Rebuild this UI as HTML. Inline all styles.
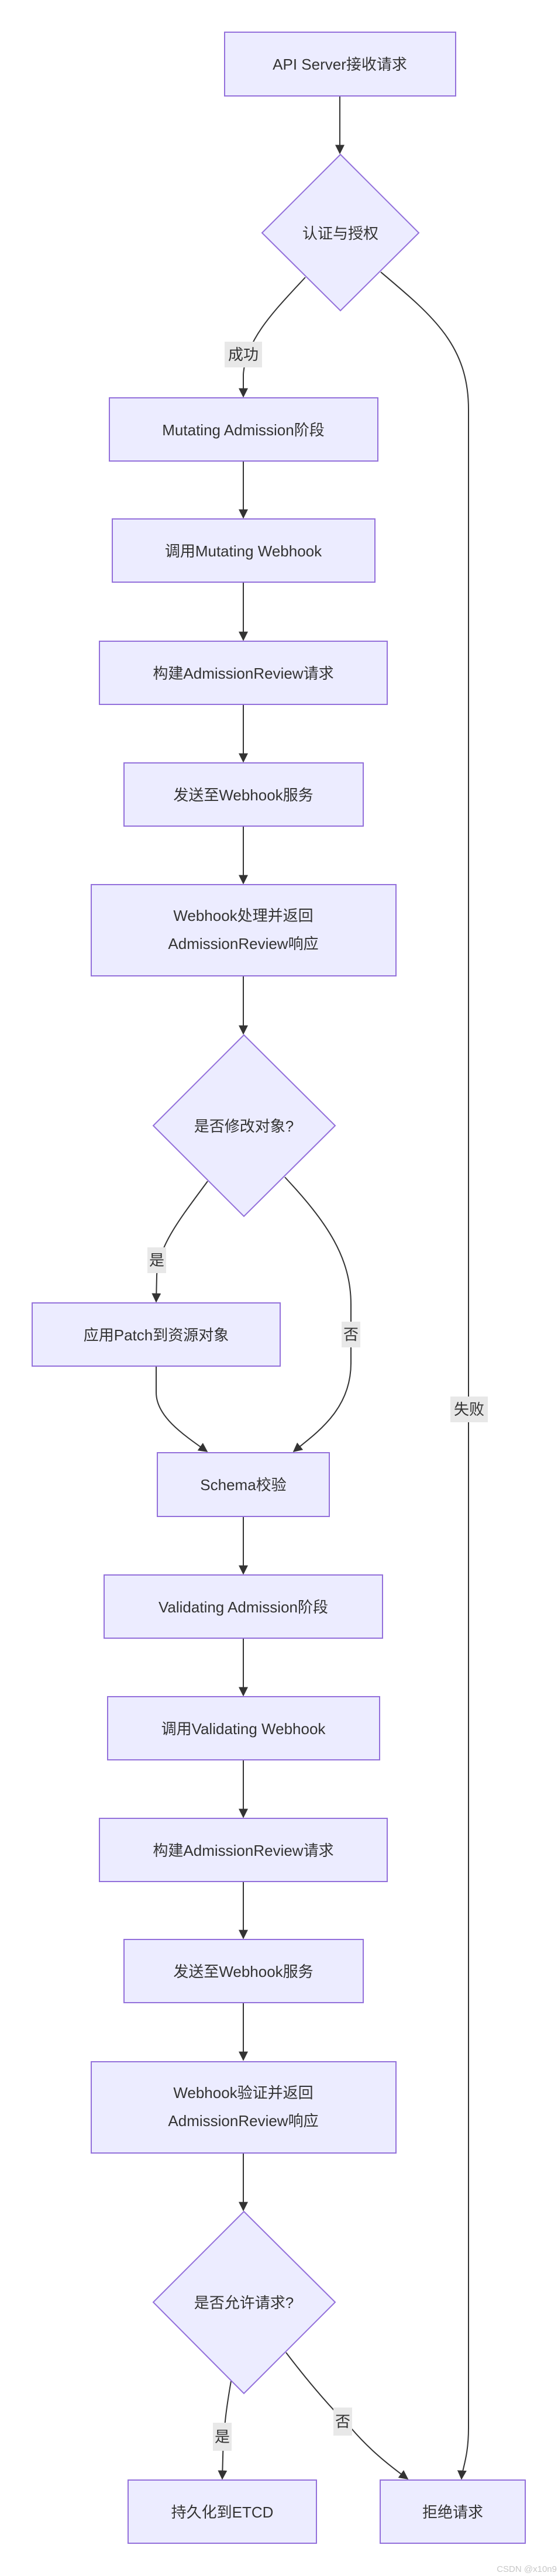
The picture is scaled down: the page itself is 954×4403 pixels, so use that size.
<!DOCTYPE html>
<html><head><meta charset="utf-8"><style>
html,body{margin:0;padding:0;background:#fff;}
svg{display:block;}
text{font-family:"Liberation Sans","Noto Sans CJK SC",sans-serif;fill:#333;}
.n{fill:#ececff;stroke:#9370db;stroke-width:2;}
.e{fill:none;stroke:#333;stroke-width:2;}
.lb{fill:#e8e8e8;}
</style></head><body>
<svg width="954" height="4403" viewBox="0 0 954 4403" xmlns="http://www.w3.org/2000/svg">
<defs><marker id="a" viewBox="0 0 10 10" refX="9" refY="5" markerWidth="8" markerHeight="8" orient="auto"><path d="M0,0L10,5L0,10z" fill="#333"/></marker></defs>

<!-- edges -->
<path class="e" d="M581,164 L581,262" marker-end="url(#a)"/>
<path class="e" d="M522,474 C470,530 420,580 416,640 L416,678" marker-end="url(#a)"/>
<path class="e" d="M651,465 C740,540 801,590 801,700 L801,4150 C801,4200 790,4220 789,4237" marker-end="url(#a)"/>
<path class="e" d="M416,788 L416,885" marker-end="url(#a)"/>
<path class="e" d="M416,995 L416,1094" marker-end="url(#a)"/>
<path class="e" d="M416,1204 L416,1302" marker-end="url(#a)"/>
<path class="e" d="M416,1412 L416,1510" marker-end="url(#a)"/>
<path class="e" d="M416,1668 L416,1767" marker-end="url(#a)"/>
<path class="e" d="M355,2019 C310,2080 270,2130 268,2180 L267,2225" marker-end="url(#a)"/>
<path class="e" d="M487,2012 C560,2090 600,2150 600,2230 L600,2330 C600,2410 540,2450 502,2481" marker-end="url(#a)"/>
<path class="e" d="M267,2335 L267,2380 C267,2420 310,2450 354,2481" marker-end="url(#a)"/>
<path class="e" d="M416,2592 L416,2690" marker-end="url(#a)"/>
<path class="e" d="M416,2800 L416,2898" marker-end="url(#a)"/>
<path class="e" d="M416,3008 L416,3106" marker-end="url(#a)"/>
<path class="e" d="M416,3216 L416,3313" marker-end="url(#a)"/>
<path class="e" d="M416,3423 L416,3521" marker-end="url(#a)"/>
<path class="e" d="M416,3680 L416,3778" marker-end="url(#a)"/>
<path class="e" d="M395,4070 C388,4110 382,4150 381,4200 L380,4237" marker-end="url(#a)"/>
<path class="e" d="M489,4021 C530,4075 570,4120 600,4150 C630,4185 660,4210 697,4237" marker-end="url(#a)"/>

<!-- edge labels -->
<rect class="lb" x="384" y="584" width="64" height="44"/><text x="416" y="615" font-size="26" text-anchor="middle">成功</text>
<rect class="lb" x="770" y="2387" width="64" height="44"/><text x="802" y="2418" font-size="26" text-anchor="middle">失败</text>
<rect class="lb" x="252" y="2132" width="32" height="44"/><text x="268" y="2163" font-size="26" text-anchor="middle">是</text>
<rect class="lb" x="584" y="2259" width="32" height="44"/><text x="600" y="2290" font-size="26" text-anchor="middle">否</text>
<rect class="lb" x="364" y="4141" width="32" height="48"/><text x="380" y="4174" font-size="26" text-anchor="middle">是</text>
<rect class="lb" x="570" y="4115" width="32" height="48"/><text x="586" y="4148" font-size="26" text-anchor="middle">否</text>

<!-- nodes -->
<rect class="n" x="384" y="55" width="395" height="109"/><text x="581" y="119" font-size="26" text-anchor="middle">API Server接收请求</text>
<polygon class="n" points="582,264 716,398 582,531 448,398"/><text x="582" y="408" font-size="26" text-anchor="middle">认证与授权</text>
<rect class="n" x="187" y="680" width="459" height="108"/><text x="416" y="744" font-size="26" text-anchor="middle">Mutating Admission阶段</text>
<rect class="n" x="192" y="887" width="449" height="108"/><text x="416" y="951" font-size="26" text-anchor="middle">调用Mutating Webhook</text>
<rect class="n" x="170" y="1096" width="492" height="108"/><text x="416" y="1160" font-size="26" text-anchor="middle">构建AdmissionReview请求</text>
<rect class="n" x="212" y="1304" width="409" height="108"/><text x="416" y="1368" font-size="26" text-anchor="middle">发送至Webhook服务</text>
<rect class="n" x="156" y="1512" width="521" height="156"/><text x="416" y="1574" font-size="26" text-anchor="middle">Webhook处理并返回</text><text x="416" y="1622" font-size="26" text-anchor="middle">AdmissionReview响应</text>
<polygon class="n" points="417,1769 573,1924 417,2079 262,1924"/><text x="417" y="1934" font-size="26" text-anchor="middle">是否修改对象?</text>
<rect class="n" x="55" y="2227" width="424" height="108"/><text x="267" y="2291" font-size="26" text-anchor="middle">应用Patch到资源对象</text>
<rect class="n" x="269" y="2483" width="294" height="109"/><text x="416" y="2547" font-size="26" text-anchor="middle">Schema校验</text>
<rect class="n" x="178" y="2692" width="476" height="108"/><text x="416" y="2756" font-size="26" text-anchor="middle">Validating Admission阶段</text>
<rect class="n" x="184" y="2900" width="465" height="108"/><text x="416" y="2964" font-size="26" text-anchor="middle">调用Validating Webhook</text>
<rect class="n" x="170" y="3108" width="492" height="108"/><text x="416" y="3172" font-size="26" text-anchor="middle">构建AdmissionReview请求</text>
<rect class="n" x="212" y="3315" width="409" height="108"/><text x="416" y="3379" font-size="26" text-anchor="middle">发送至Webhook服务</text>
<rect class="n" x="156" y="3524" width="521" height="156"/><text x="416" y="3586" font-size="26" text-anchor="middle">Webhook验证并返回</text><text x="416" y="3634" font-size="26" text-anchor="middle">AdmissionReview响应</text>
<polygon class="n" points="417,3780 573,3935 417,4091 262,3935"/><text x="417" y="3945" font-size="26" text-anchor="middle">是否允许请求?</text>
<rect class="n" x="219" y="4239" width="322" height="108"/><text x="380" y="4303" font-size="26" text-anchor="middle">持久化到ETCD</text>
<rect class="n" x="650" y="4239" width="248" height="108"/><text x="774" y="4303" font-size="26" text-anchor="middle">拒绝请求</text>

<text x="952" y="4396" font-size="15" text-anchor="end" style="fill:#c8c8c8">CSDN @x10n9</text>
</svg>
</body></html>
